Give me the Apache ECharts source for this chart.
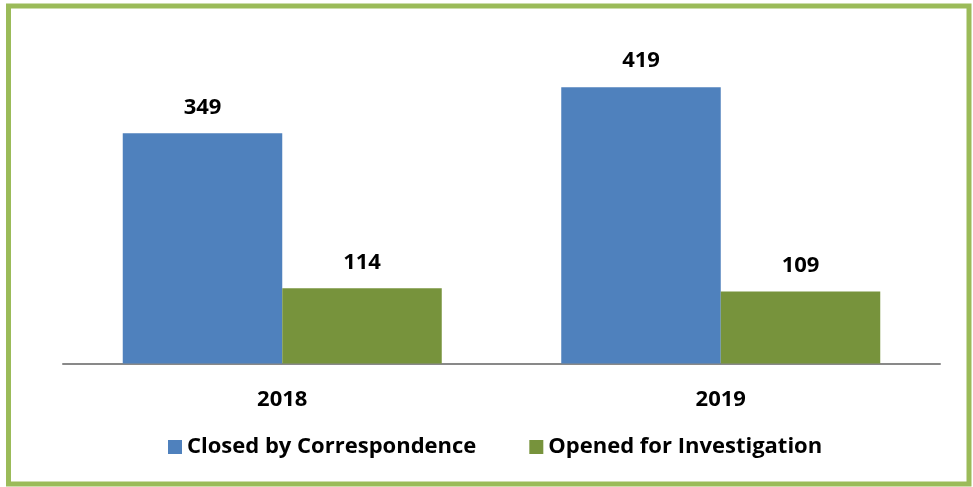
<!DOCTYPE html>
<html>
<head>
<meta charset="utf-8">
<script src="https://cdn.jsdelivr.net/npm/echarts@6/dist/echarts.min.js"></script>
<style>
  html, body { margin: 0; padding: 0; background: #fff; }
  #chart { width: 973px; height: 487px; }
</style>
</head>
<body>
<div id="chart"></div>
<script>
const years = ['2018', '2019']
const closedByCorrespondence = [349, 419]
const openedForInvestigation = [114, 109]
const seriesNames = ['Closed by Correspondence', 'Opened for Investigation']

const fontFamily = '"Open Sans", sans-serif'
const chart = echarts.init(document.getElementById('chart'))

const labelStyle = {
  show: true,
  position: 'top',
  distance: 15,
  color: '#000',
  fontSize: 22,
  fontWeight: 'bold',
  fontFamily
}

chart.setOption({
  animation: false,
  graphic: [
    {
      type: 'rect',
      shape: { x: 8.5, y: 6, width: 960.5, height: 478 },
      style: { fill: 'none', stroke: '#9bbb59', lineWidth: 5 }
    }
  ],
  legend: {
    left: 163,
    top: 431,
    itemWidth: 14,
    itemHeight: 14,
    itemGap: 53,
    icon: 'rect',
    textStyle: { color: '#000', fontSize: 22, fontWeight: 'bold', fontFamily }
  },
  grid: { left: 63, right: 33, top: 33.7, bottom: 123.5 },
  xAxis: {
    type: 'category',
    data: years,
    axisLine: { lineStyle: { color: '#898989', width: 2 } },
    axisTick: { show: false },
    axisLabel: { color: '#000', fontSize: 22, fontWeight: 'bold', fontFamily, margin: 25 }
  },
  yAxis: {
    type: 'value',
    min: 0,
    max: 500,
    show: false,
    splitLine: { show: false }
  },
  series: [
    {
      name: seriesNames[0],
      type: 'bar',
      data: closedByCorrespondence,
      barWidth: 159.5,
      barGap: '0%',
      itemStyle: { color: '#4f81bd' },
      label: labelStyle
    },
    {
      name: seriesNames[1],
      type: 'bar',
      data: openedForInvestigation,
      barWidth: 159.5,
      barGap: '0%',
      itemStyle: { color: '#77933c' },
      label: labelStyle
    }
  ]
})
</script>
</body>
</html>
